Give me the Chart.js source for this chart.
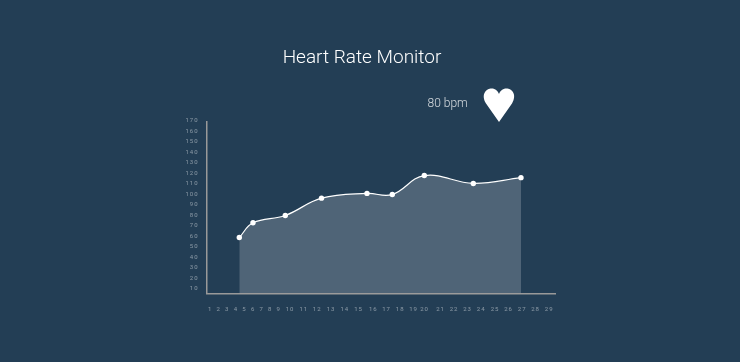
<!DOCTYPE html>
<html><head><meta charset="utf-8">
<style>html,body{margin:0;padding:0;background:#233e55;}#w{position:absolute;left:0;top:0;width:740px;height:362px}</style>
<script src="https://cdn.jsdelivr.net/npm/chart.js@4"></script>
</head><body><div id="w"><canvas id="c" width="740" height="362"></canvas></div>
<script>
const titleText = "Heart Rate Monitor";
const bpmText = "80 bpm";
const tickLabels = ["1","2","3","4","5","6","7","8","9","10","11","12","13","14","15","16","17","18","19","20","21","22","23","24","25","26","27","28","29"];
// the axis labels sit unevenly along the axis, so each label has its own position
const tickPlaces = [3.7,12.3,20.7,29.5,38,46.7,55.2,63.7,72.3,83.6,97.3,110.7,124.5,138.3,152,166.8,180,193.7,207,218,234,247.5,261,274.7,288.5,302,315.7,329,342.7];
const sampleTimes = [32.8,46.5,78.8,115,160.5,185.8,217.8,266.8,314.5];
const heartRates = [59,73,80,96.5,101,100,118,110.5,116];
const yTicks = [10,20,30,40,50,60,70,80,90,100,110,120,130,140,150,160,170];

const decor = {
  id:'decor',
  afterDatasetsDraw(chart){ chart.ctx.letterSpacing='1px'; },
  afterDraw(chart){
    const ctx = chart.ctx;
    ctx.letterSpacing='0px';
    ctx.save();
    ctx.fillStyle='rgba(255,255,255,0.8)';
    ctx.font='300 12px Roboto';
    ctx.textAlign='left'; ctx.textBaseline='alphabetic';
    ctx.fillText(bpmText,427.5,107);
    ctx.fillStyle='#fff';
    ctx.beginPath();
    ctx.moveTo(499,122);
    ctx.lineTo(486,103.5);
    ctx.bezierCurveTo(480.5,94,486.5,88.5,491.5,88.5);
    ctx.bezierCurveTo(495.5,88.5,498,91,499,94);
    ctx.bezierCurveTo(500,91,502.5,88.5,506.5,88.5);
    ctx.bezierCurveTo(511.5,88.5,517.5,94,512,103.5);
    ctx.closePath();
    ctx.fill();
    ctx.restore();
  }
};
new Chart(document.getElementById('c'),{
  type:'line',
  data:{datasets:[{
    data:sampleTimes.map((t,i)=>({x:t,y:heartRates[i]})),
    borderColor:'#fff',borderWidth:1.2,
    backgroundColor:'rgba(255,255,255,0.2)',fill:'origin',
    pointBackgroundColor:'#fff',pointBorderColor:'#fff',pointRadius:2.7,pointBorderWidth:0,
    tension:0.4
  }]},
  plugins:[decor],
  options:{
    responsive:false,animation:false,
    layout:{padding:{left:169,right:185,top:47,bottom:0}},
    plugins:{legend:{display:false},tooltip:{enabled:false},
      title:{display:true,text:titleText,color:'#fff',font:{family:'Roboto',size:19,weight:300},padding:{top:0,bottom:52.2}}},
    scales:{
      x:{type:'linear',min:0,max:348.5,
        grid:{display:false,drawTicks:false},
        border:{color:'#999',width:1.5},
        afterBuildTicks(s){s.ticks=tickPlaces.map(v=>({value:v}));},
        afterFit(s){s.height=362-293.5;},
        ticks:{z:1,autoSkip:false,maxRotation:0,color:'rgba(255,255,255,0.45)',font:{family:'Roboto',size:6},padding:12,
          callback:(v,i)=>tickLabels[i]}},
      y:{type:'linear',min:5.7,max:169,
        grid:{display:false,drawTicks:false},
        border:{color:'#999',width:1.5},
        afterBuildTicks(s){s.ticks=yTicks.map(v=>({value:v}));},
        afterFit(s){s.width=37.5;},
        ticks:{z:1,autoSkip:false,color:'rgba(255,255,255,0.45)',font:{family:'Roboto',size:6},padding:8}}
    }
  }
});
</script></body></html>
